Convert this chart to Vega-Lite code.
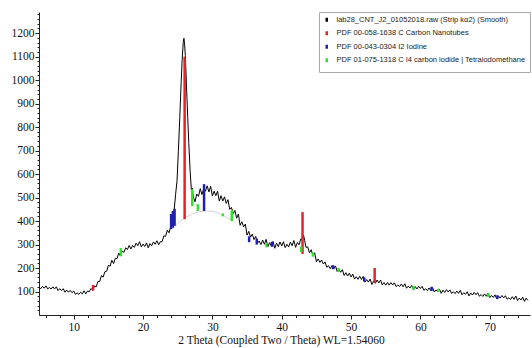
{
  "$schema": "https://vega.github.io/schema/vega-lite/v6.json",
  "width": 532,
  "height": 348,
  "autosize": {"type": "fit", "contains": "padding"},
  "padding": {"left": 11, "top": 12, "right": 2, "bottom": 2},
  "background": "white",
  "config": {
    "view": {"stroke": null},
    "axis": {
      "labelFont": "Liberation Serif",
      "labelFontSize": 11.5,
      "labelColor": "#111",
      "titleFont": "Liberation Serif",
      "titleFontSize": 11.5,
      "titleFontWeight": "normal",
      "titleColor": "#111",
      "domainColor": "#222",
      "tickColor": "#222",
      "grid": false
    },
    "legend": {
      "labelFont": "Liberation Sans",
      "labelFontSize": 7.5,
      "labelColor": "#222",
      "labelLimit": 400
    }
  },
  "datasets": {
    "pattern": [
      {"t":5.0,"i":118},{"t":5.25,"i":112},{"t":5.5,"i":122},{"t":5.75,"i":114},{"t":6.0,"i":124},{"t":6.25,"i":111},{"t":6.5,"i":117},{"t":6.75,"i":111},
      {"t":7.0,"i":120},{"t":7.25,"i":111},{"t":7.5,"i":120},{"t":7.75,"i":104},{"t":8.0,"i":112},{"t":8.25,"i":104},{"t":8.5,"i":112},{"t":8.75,"i":97},
      {"t":9.0,"i":106},{"t":9.25,"i":97},{"t":9.5,"i":105},{"t":9.75,"i":95},{"t":10.0,"i":102},{"t":10.25,"i":88},{"t":10.5,"i":94},{"t":10.75,"i":88},
      {"t":11.0,"i":97},{"t":11.25,"i":90},{"t":11.5,"i":103},{"t":11.75,"i":90},{"t":12.0,"i":102},{"t":12.25,"i":99},{"t":12.5,"i":113},{"t":12.75,"i":104},
      {"t":13.0,"i":123},{"t":13.25,"i":120},{"t":13.5,"i":143},{"t":13.75,"i":142},{"t":14.0,"i":168},{"t":14.25,"i":161},{"t":14.5,"i":184},{"t":14.75,"i":186},
      {"t":15.0,"i":211},{"t":15.25,"i":208},{"t":15.5,"i":233},{"t":15.75,"i":219},{"t":16.0,"i":241},{"t":16.25,"i":240},{"t":16.5,"i":264},{"t":16.75,"i":251},
      {"t":17.0,"i":272},{"t":17.25,"i":267},{"t":17.5,"i":286},{"t":17.75,"i":279},{"t":18.0,"i":296},{"t":18.25,"i":281},{"t":18.5,"i":296},{"t":18.75,"i":288},
      {"t":19.0,"i":306},{"t":19.25,"i":295},{"t":19.5,"i":312},{"t":19.75,"i":290},{"t":20.0,"i":302},{"t":20.25,"i":292},{"t":20.5,"i":307},{"t":20.75,"i":286},
      {"t":21.0,"i":304},{"t":21.25,"i":295},{"t":21.5,"i":311},{"t":21.75,"i":301},{"t":22.0,"i":316},{"t":22.25,"i":299},{"t":22.5,"i":312},{"t":22.75,"i":312},
      {"t":23.0,"i":337},{"t":23.25,"i":335},{"t":23.5,"i":361},{"t":23.75,"i":350},{"t":24.0,"i":377},{"t":24.25,"i":394},{"t":24.5,"i":450},{"t":24.7,"i":514},
      {"t":24.9,"i":570},{"t":25.1,"i":700},{"t":25.3,"i":840},{"t":25.5,"i":990},{"t":25.65,"i":1090},{"t":25.8,"i":1160},{"t":25.9,"i":1178},{"t":26.0,"i":1150},
      {"t":26.1,"i":1105},{"t":26.2,"i":1030},{"t":26.3,"i":950},{"t":26.45,"i":840},{"t":26.6,"i":730},{"t":26.8,"i":610},{"t":27.0,"i":520},{"t":27.1,"i":540},
      {"t":27.25,"i":503},{"t":27.5,"i":482},{"t":27.75,"i":515},{"t":28.0,"i":505},{"t":28.25,"i":538},{"t":28.5,"i":513},{"t":28.75,"i":538},{"t":29.0,"i":527},
      {"t":29.25,"i":550},{"t":29.5,"i":524},{"t":29.75,"i":548},{"t":30.0,"i":507},{"t":30.25,"i":527},{"t":30.5,"i":508},{"t":30.75,"i":527},{"t":31.0,"i":485},
      {"t":31.25,"i":508},{"t":31.5,"i":485},{"t":31.75,"i":503},{"t":32.0,"i":475},{"t":32.25,"i":491},{"t":32.5,"i":450},{"t":32.75,"i":458},{"t":33.0,"i":432},
      {"t":33.25,"i":445},{"t":33.5,"i":412},{"t":33.75,"i":430},{"t":34.0,"i":382},{"t":34.25,"i":397},{"t":34.5,"i":375},{"t":34.75,"i":387},{"t":35.0,"i":340},
      {"t":35.25,"i":356},{"t":35.5,"i":332},{"t":35.75,"i":344},{"t":36.0,"i":321},{"t":36.25,"i":335},{"t":36.5,"i":305},{"t":36.75,"i":315},{"t":37.0,"i":300},
      {"t":37.25,"i":319},{"t":37.5,"i":301},{"t":37.75,"i":322},{"t":38.0,"i":291},{"t":38.25,"i":308},{"t":38.5,"i":294},{"t":38.75,"i":313},{"t":39.0,"i":284},
      {"t":39.25,"i":306},{"t":39.5,"i":291},{"t":39.75,"i":311},{"t":40.0,"i":294},{"t":40.25,"i":312},{"t":40.5,"i":287},{"t":40.75,"i":301},{"t":41.0,"i":290},
      {"t":41.25,"i":310},{"t":41.5,"i":295},{"t":41.75,"i":317},{"t":42.0,"i":288},{"t":42.25,"i":308},{"t":42.5,"i":299},{"t":42.75,"i":324},{"t":43.0,"i":321},
      {"t":43.15,"i":340},{"t":43.3,"i":318},{"t":43.5,"i":288},{"t":43.75,"i":290},{"t":44.0,"i":265},{"t":44.25,"i":278},{"t":44.5,"i":252},{"t":44.75,"i":265},
      {"t":45.0,"i":226},{"t":45.25,"i":239},{"t":45.5,"i":224},{"t":45.75,"i":234},{"t":46.0,"i":217},{"t":46.25,"i":226},{"t":46.5,"i":203},{"t":46.75,"i":210},
      {"t":47.0,"i":197},{"t":47.25,"i":210},{"t":47.5,"i":196},{"t":47.75,"i":209},{"t":48.0,"i":185},{"t":48.25,"i":194},{"t":48.5,"i":182},{"t":48.75,"i":193},
      {"t":49.0,"i":168},{"t":49.25,"i":180},{"t":49.5,"i":166},{"t":49.75,"i":178},{"t":50.0,"i":162},{"t":50.25,"i":174},{"t":50.5,"i":153},{"t":50.75,"i":163},
      {"t":51.0,"i":152},{"t":51.25,"i":165},{"t":51.5,"i":151},{"t":51.75,"i":164},{"t":52.0,"i":140},{"t":52.25,"i":151},{"t":52.5,"i":140},{"t":52.75,"i":153},
      {"t":53.0,"i":130},{"t":53.25,"i":145},{"t":53.5,"i":135},{"t":53.75,"i":149},{"t":54.0,"i":137},{"t":54.25,"i":149},{"t":54.5,"i":128},{"t":54.75,"i":138},
      {"t":55.0,"i":127},{"t":55.25,"i":138},{"t":55.5,"i":127},{"t":55.75,"i":138},{"t":56.0,"i":128},{"t":56.25,"i":137},{"t":56.5,"i":121},{"t":56.75,"i":128},
      {"t":57.0,"i":121},{"t":57.25,"i":132},{"t":57.5,"i":120},{"t":57.75,"i":133},{"t":58.0,"i":114},{"t":58.25,"i":123},{"t":58.5,"i":115},{"t":58.75,"i":126},
      {"t":59.0,"i":108},{"t":59.25,"i":121},{"t":59.5,"i":111},{"t":59.75,"i":122},{"t":60.0,"i":113},{"t":60.25,"i":122},{"t":60.5,"i":105},{"t":60.75,"i":112},
      {"t":61.0,"i":104},{"t":61.25,"i":115},{"t":61.5,"i":104},{"t":61.75,"i":117},{"t":62.0,"i":98},{"t":62.25,"i":107},{"t":62.5,"i":99},{"t":62.75,"i":110},
      {"t":63.0,"i":92},{"t":63.25,"i":106},{"t":63.5,"i":96},{"t":63.75,"i":108},{"t":64.0,"i":98},{"t":64.25,"i":107},{"t":64.5,"i":92},{"t":64.75,"i":99},
      {"t":65.0,"i":91},{"t":65.25,"i":102},{"t":65.5,"i":92},{"t":65.75,"i":105},{"t":66.0,"i":86},{"t":66.25,"i":95},{"t":66.5,"i":88},{"t":66.75,"i":99},
      {"t":67.0,"i":81},{"t":67.25,"i":94},{"t":67.5,"i":85},{"t":67.75,"i":96},{"t":68.0,"i":86},{"t":68.25,"i":95},{"t":68.5,"i":80},{"t":68.75,"i":87},
      {"t":69.0,"i":79},{"t":69.25,"i":90},{"t":69.5,"i":80},{"t":69.75,"i":93},{"t":70.0,"i":74},{"t":70.25,"i":83},{"t":70.5,"i":75},{"t":70.75,"i":86},
      {"t":71.0,"i":68},{"t":71.25,"i":81},{"t":71.5,"i":72},{"t":71.75,"i":83},{"t":72.0,"i":73},{"t":72.25,"i":82},{"t":72.5,"i":67},{"t":72.75,"i":74},
      {"t":73.0,"i":66},{"t":73.25,"i":78},{"t":73.5,"i":67},{"t":73.75,"i":81},{"t":74.0,"i":62},{"t":74.25,"i":72},{"t":74.5,"i":64},{"t":74.75,"i":76},
      {"t":75.0,"i":58},{"t":75.25,"i":72},{"t":75.5,"i":62}
    ],
    "background": [
      {"t":24.3,"i":366},{"t":25.0,"i":390},{"t":25.8,"i":408},{"t":27.0,"i":428},{"t":28.0,"i":439},{"t":29.2,"i":443},{"t":30.5,"i":438},{"t":31.5,"i":425},{"t":32.5,"i":408},{"t":33.0,"i":398}
    ],
    "sticks": [
      {"t":12.8,"lo":105,"hi":128,"s":"PDF 00-058-1638 C Carbon Nanotubes"},
      {"t":26.0,"lo":408,"hi":1100,"s":"PDF 00-058-1638 C Carbon Nanotubes"},
      {"t":43.0,"lo":260,"hi":438,"s":"PDF 00-058-1638 C Carbon Nanotubes"},
      {"t":53.4,"lo":136,"hi":200,"s":"PDF 00-058-1638 C Carbon Nanotubes"},
      {"t":24.05,"lo":366,"hi":430,"s":"PDF 00-043-0304 I2 Iodine"},
      {"t":24.3,"lo":372,"hi":443,"s":"PDF 00-043-0304 I2 Iodine"},
      {"t":24.55,"lo":380,"hi":452,"s":"PDF 00-043-0304 I2 Iodine"},
      {"t":28.8,"lo":443,"hi":557,"s":"PDF 00-043-0304 I2 Iodine"},
      {"t":35.3,"lo":310,"hi":335,"s":"PDF 00-043-0304 I2 Iodine"},
      {"t":36.4,"lo":300,"hi":325,"s":"PDF 00-043-0304 I2 Iodine"},
      {"t":38.6,"lo":290,"hi":312,"s":"PDF 00-043-0304 I2 Iodine"},
      {"t":47.4,"lo":195,"hi":212,"s":"PDF 00-043-0304 I2 Iodine"},
      {"t":51.9,"lo":142,"hi":160,"s":"PDF 00-043-0304 I2 Iodine"},
      {"t":61.6,"lo":102,"hi":120,"s":"PDF 00-043-0304 I2 Iodine"},
      {"t":71.1,"lo":68,"hi":84,"s":"PDF 00-043-0304 I2 Iodine"},
      {"t":16.8,"lo":250,"hi":285,"s":"PDF 01-075-1318 C I4 carbon iodide | Tetraiodomethane"},
      {"t":27.1,"lo":464,"hi":536,"s":"PDF 01-075-1318 C I4 carbon iodide | Tetraiodomethane"},
      {"t":27.9,"lo":443,"hi":472,"s":"PDF 01-075-1318 C I4 carbon iodide | Tetraiodomethane"},
      {"t":31.5,"lo":420,"hi":432,"s":"PDF 01-075-1318 C I4 carbon iodide | Tetraiodomethane"},
      {"t":32.8,"lo":400,"hi":445,"s":"PDF 01-075-1318 C I4 carbon iodide | Tetraiodomethane"},
      {"t":37.8,"lo":288,"hi":306,"s":"PDF 01-075-1318 C I4 carbon iodide | Tetraiodomethane"},
      {"t":42.8,"lo":268,"hi":292,"s":"PDF 01-075-1318 C I4 carbon iodide | Tetraiodomethane"},
      {"t":44.5,"lo":248,"hi":266,"s":"PDF 01-075-1318 C I4 carbon iodide | Tetraiodomethane"},
      {"t":48.2,"lo":183,"hi":200,"s":"PDF 01-075-1318 C I4 carbon iodide | Tetraiodomethane"},
      {"t":59.0,"lo":108,"hi":124,"s":"PDF 01-075-1318 C I4 carbon iodide | Tetraiodomethane"},
      {"t":62.6,"lo":98,"hi":112,"s":"PDF 01-075-1318 C I4 carbon iodide | Tetraiodomethane"},
      {"t":69.8,"lo":76,"hi":92,"s":"PDF 01-075-1318 C I4 carbon iodide | Tetraiodomethane"}
    ]
  },
  "encoding": {
    "x": {
      "field": "t", "type": "quantitative",
      "scale": {"domain": [5, 75.8], "nice": false, "zero": false},
      "axis": {
        "title": "2 Theta (Coupled Two / Theta) WL=1.54060",
        "values": [6,8,10,12,14,16,18,20,22,24,26,28,30,32,34,36,38,40,42,44,46,48,50,52,54,56,58,60,62,64,66,68,70,72,74],
        "labelExpr": "datum.value % 10 === 0 ? datum.label : ''",
        "tickSize": {"condition": {"test": "datum.value % 10 === 0", "value": 4}, "value": 2.5},
        "labelPadding": 2,
        "titlePadding": 2,
        "titleX": 242,
        "labelFlush": false
      }
    },
    "y": {
      "type": "quantitative",
      "scale": {"domain": [0, 1290], "nice": false},
      "axis": {
        "title": null,
        "values": [20,40,60,80,100,120,140,160,180,200,220,240,260,280,300,320,340,360,380,400,420,440,460,480,500,520,540,560,580,600,620,640,660,680,700,720,740,760,780,800,820,840,860,880,900,920,940,960,980,1000,1020,1040,1060,1080,1100,1120,1140,1160,1180,1200,1220,1240,1260,1280],
        "labelExpr": "datum.value % 100 === 0 ? datum.label : ''",
        "tickSize": {"condition": {"test": "datum.value % 100 === 0", "value": 4}, "value": 2},
        "labelPadding": 1,
        "labelFlush": false,
        "format": "d"
      }
    }
  },
  "layer": [
    {
      "data": {"name": "background"},
      "mark": {"type": "line", "color": "#c8c8c8", "strokeWidth": 0.8, "interpolate": "monotone", "clip": true},
      "encoding": {"y": {"field": "i", "type": "quantitative"}}
    },
    {
      "data": {"name": "pattern"},
      "mark": {"type": "line", "strokeWidth": 1, "clip": true},
      "encoding": {
        "y": {"field": "i", "type": "quantitative"},
        "color": {
          "datum": "lab28_CNT_J2_01052018.raw (Strip kα2) (Smooth)",
          "type": "nominal",
          "title": null,
          "scale": {
            "domain": [
              "lab28_CNT_J2_01052018.raw (Strip kα2) (Smooth)",
              "PDF 00-058-1638 C Carbon Nanotubes",
              "PDF 00-043-0304 I2 Iodine",
              "PDF 01-075-1318 C I4 carbon iodide | Tetraiodomethane"
            ],
            "range": ["#000000", "#e8202a", "#2020b0", "#33e033"]
          },
          "legend": {
            "title": null,
            "orient": "top-right",
            "offset": 0,
            "padding": 4,
            "strokeColor": "#a8a8a8",
            "fillColor": "white",
            "symbolType": "M0,-1L0,1",
            "symbolSize": 16,
            "symbolStrokeWidth": 2.5,
            "rowPadding": -1.5,
            "labelOffset": 6
          }
        }
      }
    },
    {
      "data": {"name": "sticks"},
      "mark": {"type": "rule", "strokeWidth": 2.5, "clip": true},
      "encoding": {
        "y": {"field": "lo", "type": "quantitative"},
        "y2": {"field": "hi"},
        "color": {"field": "s", "type": "nominal", "title": null}
      }
    }
  ]
}
